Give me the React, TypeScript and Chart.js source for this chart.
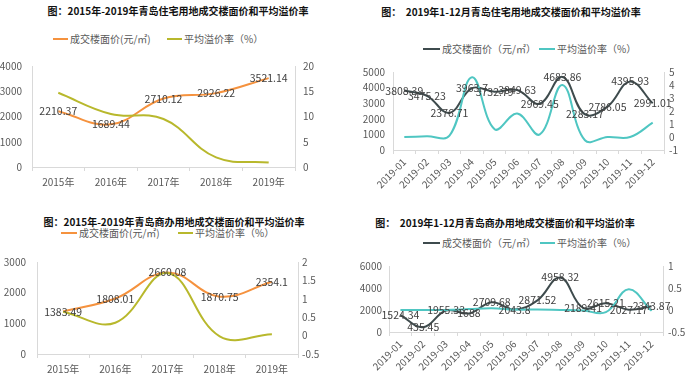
import React, { useEffect, useRef } from 'react';
import { Chart, registerables } from 'chart.js';
Chart.register(...registerables);

const FONT = '"Noto Sans CJK SC", "Noto Sans", sans-serif';

// ---------- data ----------
const yearCats = ['2015年', '2016年', '2017年', '2018年', '2019年'];
const monthCats = ['2019-01', '2019-02', '2019-03', '2019-04', '2019-05', '2019-06', '2019-07', '2019-08', '2019-09', '2019-10', '2019-11', '2019-12'];

const resPriceYear = [2210.37, 1689.44, 2710.12, 2926.22, 3521.14];
const resPremYear = [14.7, 10.5, 9.5, 1.9, 0.9];

const resPriceMonth = [3808.39, 3475.23, 2376.71, 3963.7, 3732.79, 3849.63, 2969.45, 4683.86, 2283.17, 2786.05, 4395.93, 2991.01];
const resPremMonth = [0.0, 0.05, 0.1, 4.6, 0.6, 1.8, 0.2, 4.0, -0.25, 0.0, 0.0, 1.1];

const comPriceYear = [1383.49, 1808.01, 2660.08, 1870.75, 2354.1];
const comPremYear = [0.65, 0.35, 1.7, -0.02, 0.04];

const comPriceMonth = [1524.34, 435.45, 1955.33, 1688, 2709.68, 2043.8, 2871.52, 4958.32, 2189.41, 2615.21, 2027.17, 2343.87];
const comPremMonth = [0, 0, 0, 0.02, 0.04, 0.01, 0.01, 0, -0.01, -0.05, 0.47, -0.02];

const titles = [
  '图：2015年-2019年青岛住宅用地成交楼面价和平均溢价率',
  '图：  2019年1-12月青岛住宅用地成交楼面价和平均溢价率',
  '图：2015年-2019年青岛商办用地成交楼面价和平均溢价率',
  '图：  2019年1-12月青岛商办用地成交楼面价和平均溢价率',
];
const seriesNamesA = ['成交楼面价(元/㎡)', '平均溢价率（%）'];
const seriesNamesB = ['成交楼面价（元/㎡）', '平均溢价率（%）'];

// ---------- styles ----------
const ORANGE = '#F5923E';
const OLIVE = '#B8B82C';
const DARK = '#3E4B4D';
const TEAL = '#4FC6C2';
const AXIS = '#D9D9D9';
const TICK_TEXT = '#595959';

const panels = [
  {
    canvas: { x: 0, y: 50, w: 330, h: 140 }, area: { l: 32, t: 61, r: 295, b: 167 },
    labels: yearCats, price: resPriceYear, prem: resPremYear, names: seriesNamesA, colors: [ORANGE, OLIVE],
    y: { min: 0, max: 4000, step: 1000 }, y1: { min: 0, max: 20, step: 5 }, rot: 0, lpad: 10, rpad: 8, xpad: 5,
    title: { text: titles[0], cx: 178, cy: 11 },
    legend: { cy: 39, items: [{ x: 53, w: 15 }, { x: 167, w: 15 }] },
  },
  {
    canvas: { x: 350, y: 58, w: 350, h: 134 }, area: { l: 393, t: 69, r: 664, b: 150 },
    labels: monthCats, price: resPriceMonth, prem: resPremMonth, names: seriesNamesB, colors: [DARK, TEAL],
    y: { min: 0, max: 5000, step: 1000 }, y1: { min: -1, max: 5, step: 1 }, rot: 45, lpad: 8, rpad: 5, xpad: 2,
    title: { text: titles[1], cx: 511, cy: 12 },
    legend: { cy: 49, items: [{ x: 423, w: 17 }, { x: 539, w: 16 }] },
  },
  {
    canvas: { x: 0, y: 245, w: 340, h: 131 }, area: { l: 37, t: 255, r: 298, b: 354 },
    labels: yearCats, price: comPriceYear, prem: comPremYear, names: seriesNamesA, colors: [ORANGE, OLIVE],
    y: { min: 0, max: 3000, step: 1000 }, y1: { min: -0.5, max: 2, step: 0.5 }, rot: 0, lpad: 11, rpad: 4, xpad: 5,
    title: { text: titles[2], cx: 174, cy: 222 },
    legend: { cy: 233, items: [{ x: 61, w: 16 }, { x: 178, w: 15 }] },
  },
  {
    canvas: { x: 350, y: 253, w: 350, h: 123 }, area: { l: 389, t: 263, r: 663, b: 332 },
    labels: monthCats, price: comPriceMonth, prem: comPremMonth, names: seriesNamesB, colors: [DARK, TEAL],
    y: { min: 0, max: 6000, step: 2000 }, y1: { min: -0.5, max: 1, step: 0.5 }, rot: 45, lpad: 7, rpad: 5, xpad: 2,
    title: { text: titles[3], cx: 505, cy: 223 },
    legend: { cy: 243, items: [{ x: 423, w: 17 }, { x: 540, w: 15 }] },
  },
];

const valueLabels = {
  id: 'valueLabels',
  afterDatasetsDraw(chart: any) {
    const ctx = chart.ctx;
    const meta = chart.getDatasetMeta(0);
    const data = chart.data.datasets[0].data;
    ctx.save();
    ctx.font = `10.5px ${FONT}`;
    ctx.fillStyle = '#404040';
    ctx.textAlign = 'center';
    ctx.textBaseline = 'middle';
    meta.data.forEach((pt: any, i: number) => {
      ctx.fillText(String(data[i]), pt.x, pt.y);
    });
    ctx.restore();
  },
};

const plain = (v: any) => String(Math.round(Number(v) * 100) / 100);

function Panel({ cfg }: { cfg: any }) {
  const ref = useRef<HTMLCanvasElement>(null);
  useEffect(() => {
    const c = cfg;
    const leftW = c.area.l - c.canvas.x;
    const rightW = c.canvas.x + c.canvas.w - c.area.r;
    const bottomH = c.canvas.y + c.canvas.h - c.area.b;
    const tickFont = { size: 10, family: FONT };
    const chart = new Chart(ref.current as HTMLCanvasElement, {
      type: 'line',
      data: {
        labels: c.labels,
        datasets: [
          { label: c.names[0], data: c.price, borderColor: c.colors[0], backgroundColor: c.colors[0], borderWidth: 2, pointRadius: 0, tension: 0.4, yAxisID: 'y', order: 1 },
          { label: c.names[1], data: c.prem, borderColor: c.colors[1], backgroundColor: c.colors[1], borderWidth: 2, pointRadius: 0, tension: 0.4, yAxisID: 'y1', order: 0 },
        ],
      },
      options: {
        responsive: false,
        animation: false,
        devicePixelRatio: 1,
        layout: { padding: { top: c.area.t - c.canvas.y, left: 0, right: 0, bottom: 0 } },
        plugins: { legend: { display: false }, title: { display: false }, tooltip: { enabled: false } },
        scales: {
          x: {
            type: 'category',
            offset: true,
            grid: { display: true, drawOnChartArea: false, drawTicks: true, tickLength: 4, color: AXIS, offset: true },
            border: { display: true, color: AXIS },
            ticks: { color: TICK_TEXT, font: tickFont, padding: c.xpad, autoSkip: false, maxRotation: c.rot, minRotation: c.rot },
            afterFit: (s: any) => { s.height = bottomH; },
          },
          y: {
            position: 'left',
            min: c.y.min, max: c.y.max,
            grid: { display: false, drawTicks: false },
            border: { display: true, color: AXIS },
            ticks: { stepSize: c.y.step, color: TICK_TEXT, font: tickFont, padding: c.lpad, autoSkip: false, callback: plain },
            afterFit: (s: any) => { s.width = leftW; },
          },
          y1: {
            position: 'right',
            min: c.y1.min, max: c.y1.max,
            grid: { display: false, drawTicks: false },
            border: { display: true, color: AXIS },
            ticks: { stepSize: c.y1.step, color: TICK_TEXT, font: tickFont, padding: c.rpad, autoSkip: false, callback: plain },
            afterFit: (s: any) => { s.width = rightW; },
          },
        },
      } as any,
      plugins: [valueLabels],
    });
    return () => chart.destroy();
  }, []);
  return (
    <canvas
      ref={ref}
      width={cfg.canvas.w}
      height={cfg.canvas.h}
      style={{ position: 'absolute', left: cfg.canvas.x, top: cfg.canvas.y, width: cfg.canvas.w, height: cfg.canvas.h }}
    />
  );
}

export default function App() {
  return (
    <div style={{ position: 'absolute', left: 0, top: 0, width: 700, height: 376, background: '#fff', overflow: 'hidden', fontFamily: FONT }}>
      {panels.map((p, i) => (
        <React.Fragment key={i}>
          <div style={{ position: 'absolute', left: p.title.cx, top: p.title.cy - 7, height: 14, lineHeight: '14px', transform: 'translateX(-50%)', whiteSpace: 'pre', fontSize: 10, fontWeight: 'bold', color: '#111' }}>
            {p.title.text}
          </div>
          {p.legend.items.map((it, j) => (
            <React.Fragment key={j}>
              <div style={{ position: 'absolute', left: it.x, top: p.legend.cy - 1, width: it.w, height: 2, background: p.colors[j] }} />
              <div style={{ position: 'absolute', left: it.x + it.w + 2, top: p.legend.cy - 7, height: 14, lineHeight: '14px', whiteSpace: 'pre', fontSize: 10, color: TICK_TEXT }}>
                {p.names[j]}
              </div>
            </React.Fragment>
          ))}
          <Panel cfg={p} />
        </React.Fragment>
      ))}
    </div>
  );
}
